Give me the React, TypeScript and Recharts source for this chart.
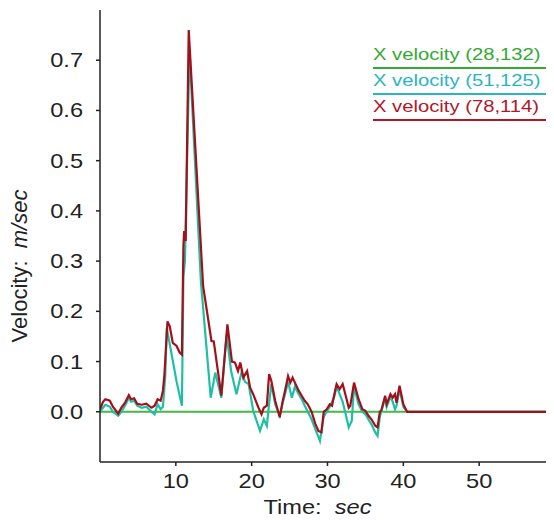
import React from "react";
import { LineChart, Line, XAxis, YAxis, Label } from "recharts";

// ---- data ----
const timeTicks = [10, 20, 30, 40, 50];
const velTicks = [0, 0.1, 0.2, 0.3, 0.4, 0.5, 0.6, 0.7];

const greenTime = [0, 60];
const greenVel = [0, 0];

const tealTime = [
  0, 0.4, 0.7, 1.3, 1.7, 2.4, 2.8, 3.3, 3.8, 4.1, 4.5, 4.9, 5.5, 6.1, 6.8, 7.2, 7.6, 8.0, 8.3, 8.6, 8.8,
  9.5, 10.1, 10.8, 11.0, 11.2, 11.8, 13.3, 14.6, 15.2, 16.0, 16.7, 17.3, 18.0, 18.7, 19.1, 19.6, 20.2,
  21.1, 21.6, 22.0, 22.4, 22.6, 23.1, 23.7, 24.1, 24.4, 24.8, 25.3, 25.7, 26.2, 26.6, 27.0, 27.4, 27.9,
  28.4, 28.8, 29.0, 29.5, 29.9, 30.3, 30.9, 31.2, 31.6, 32.0, 32.4, 32.8, 33.2, 33.5, 34.1, 34.6, 35.0,
  35.4, 35.8, 36.3, 36.6, 36.9, 37.1, 37.6, 37.8, 38.3, 38.6, 38.9, 39.1, 39.5, 40.0, 40.5, 60,
];
const tealVel = [
  0.0, 0.008, 0.014, 0.01, 0.0, -0.008, 0.0, 0.012, 0.028, 0.02, 0.022, 0.012, 0.008, 0.01, 0.0, -0.005,
  0.015, 0.005, 0.01, 0.07, 0.167, 0.11, 0.06, 0.012, 0.27, 0.3, 0.72, 0.26, 0.028, 0.078, 0.028, 0.154,
  0.08, 0.035, 0.081, 0.06, 0.055, 0.002, -0.038, -0.015, -0.028, 0.03, 0.055, 0.015, -0.008, 0.018,
  0.035, 0.06, 0.028, 0.05, 0.035, 0.025, 0.012, 0.0, -0.015, -0.035, -0.05, -0.058, -0.01, 0.0, 0.01,
  0.03, 0.05, 0.035, 0.02, -0.005, -0.031, -0.018, 0.05, 0.015, 0.0, -0.005, -0.015, -0.025, -0.041,
  -0.048, -0.01, 0.0, 0.028, 0.01, 0.03, 0.02, 0.005, 0.012, 0.045, 0.01, 0.0, 0.0,
];

const redTime = [
  0, 0.4, 0.7, 1.3, 1.7, 2.4, 2.8, 3.3, 3.8, 4.1, 4.5, 4.9, 5.5, 6.1, 6.8, 7.2, 7.6, 8.0, 8.3, 8.5, 8.9,
  9.2, 9.6, 10.1, 10.5, 10.8, 11.0, 11.1, 11.3, 11.7, 13.6, 14.7, 15.0, 16.0, 16.8, 17.4, 17.8, 18.2,
  18.5, 18.9, 19.4, 19.8, 20.2, 20.9, 21.3, 21.6, 22.0, 22.3, 22.6, 23.1, 23.7, 24.1, 24.4, 24.8, 25.1,
  25.4, 25.7, 26.2, 26.6, 27.0, 27.4, 27.9, 28.4, 28.8, 29.2, 29.5, 29.9, 30.3, 30.6, 30.9, 31.2, 31.6,
  32.0, 32.3, 32.8, 33.0, 33.2, 33.5, 34.1, 34.6, 35.0, 35.4, 35.8, 36.3, 36.6, 36.9, 37.1, 37.6, 37.8,
  38.3, 38.6, 38.9, 39.1, 39.5, 40.0, 40.5, 60,
];
const redVel = [
  0.005, 0.02, 0.025, 0.022, 0.01, -0.004, 0.008, 0.018, 0.033, 0.025, 0.027, 0.016, 0.014, 0.016, 0.008,
  0.012, 0.025, 0.022, 0.042, 0.075, 0.18, 0.17, 0.137, 0.131, 0.118, 0.114, 0.33, 0.36, 0.34, 0.76,
  0.25, 0.141, 0.14, 0.032, 0.174, 0.1, 0.098, 0.081, 0.098, 0.068, 0.081, 0.048, 0.035, 0.008, -0.005,
  0.008, 0.012, 0.075, 0.061, 0.022, -0.011, 0.022, 0.042, 0.071, 0.058, 0.068, 0.058, 0.042, 0.032,
  0.022, 0.015, 0.0, -0.024, -0.038, -0.041, 0.0, 0.005, 0.015, 0.012, 0.035, 0.055, 0.045, 0.055,
  0.038, 0.008, 0.012, 0.03, 0.058, 0.025, 0.005, 0.002, -0.008, -0.015, -0.028, -0.031, 0.0, 0.003,
  0.032, 0.015, 0.035, 0.028, 0.035, 0.018, 0.052, 0.015, 0.0, 0.0,
];

const seriesNames = ["X velocity (28,132)", "X velocity (51,125)", "X velocity (78,114)"];
const legendColors = ["#33aa33", "#2bb5c4", "#b0182a"];
const lineColors = ["#45b845", "#1fbfa3", "#a30f1b"];

const toPoints = (ts: number[], vs: number[]) => ts.map((t, i) => ({ t, v: vs[i] }));
const greenData = toPoints(greenTime, greenVel);
const tealData = toPoints(tealTime, tealVel);
const redData = toPoints(redTime, redVel);

const FONT = "'Liberation Sans', Arial, sans-serif";
const SX = 1.18;

const YTick = (props: any) => {
  const { x, y, payload } = props;
  return (
    <text
      transform={`translate(${x},${y + 7}) scale(${SX},1)`}
      textAnchor="end"
      fontSize={20}
      fontFamily={FONT}
      fill="#222"
    >
      {Number(payload.value).toFixed(1)}
    </text>
  );
};

const XTick = (props: any) => {
  const { x, y, payload } = props;
  return (
    <text
      transform={`translate(${x},${y + 20}) scale(${SX},1)`}
      textAnchor="middle"
      fontSize={20}
      fontFamily={FONT}
      fill="#222"
    >
      {payload.value}
    </text>
  );
};

const XTitle = (props: any) => {
  const { viewBox } = props;
  const cx = viewBox.x + viewBox.width / 2 - 10;
  return (
    <text
      transform={`translate(${cx},${viewBox.y + 52}) scale(${SX},1)`}
      textAnchor="middle"
      fontSize={20}
      fontFamily={FONT}
      fill="#222"
    >
      <tspan>Time:&#160;&#160;</tspan>
      <tspan fontStyle="italic">sec</tspan>
    </text>
  );
};

const YTitle = (props: any) => {
  const { viewBox } = props;
  const cy = viewBox.y + viewBox.height / 2 + 30;
  return (
    <text
      transform={`translate(${19},${cy}) rotate(-90)`}
      textAnchor="middle"
      fontSize={22}
      fontFamily={FONT}
      fill="#222"
    >
      <tspan>Velocity:&#160;&#160;</tspan>
      <tspan fontStyle="italic">m/sec</tspan>
    </text>
  );
};

const LegendBox = () => (
  <div style={{ position: "absolute", left: 365, top: 35, fontFamily: FONT }}>
    {seriesNames.map((n, i) => (
      <div
        key={n}
        style={{
          color: legendColors[i],
          fontSize: 17,
          width: 176,
          lineHeight: "24px",
          height: 24,
          borderBottom: `2px solid ${legendColors[i]}`,
          whiteSpace: "nowrap",
        }}
      >
        <span style={{ display: "inline-block", transform: "scale(1.19,1)", transformOrigin: "left center" }}>
          {n}
        </span>
      </div>
    ))}
  </div>
);

export default function App() {
  return (
    <div style={{ position: "relative", width: 554, height: 512 }}>
      <LineChart width={554} height={512} margin={{ top: 2, right: 7, left: 0, bottom: 0 }}>
        <XAxis
          dataKey="t"
          type="number"
          domain={[0, 60]}
          ticks={timeTicks}
          allowDataOverflow
          height={58}
          stroke="#222"
          strokeWidth={1.5}
          tickSize={4}
          tick={<XTick />}
          interval={0}
        >
          <Label content={<XTitle />} />
        </XAxis>
        <YAxis
          type="number"
          domain={[-0.1, 0.8]}
          ticks={velTicks}
          allowDataOverflow
          width={92}
          stroke="#222"
          strokeWidth={1.5}
          tickSize={4}
          tick={<YTick />}
          tickMargin={13}
          interval={0}
        >
          <Label content={<YTitle />} />
        </YAxis>
        <Line data={greenData} dataKey="v" name={seriesNames[0]} stroke={lineColors[0]} strokeWidth={2} dot={false} isAnimationActive={false} />
        <Line data={tealData} dataKey="v" name={seriesNames[1]} stroke={lineColors[1]} strokeWidth={2.2} dot={false} isAnimationActive={false} />
        <Line data={redData} dataKey="v" name={seriesNames[2]} stroke={lineColors[2]} strokeWidth={2.2} dot={false} isAnimationActive={false} />
      </LineChart>
      <LegendBox />
    </div>
  );
}
